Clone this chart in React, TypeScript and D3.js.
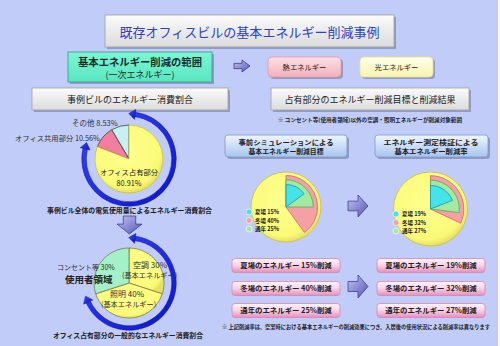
import * as d3 from "d3";

// building energy share (counter-clockwise from 12 o'clock)
const buildingLabels = ["その他", "オフィス共用部分", "オフィス占有部分"];
const buildingValues = [8.53, 10.56, 80.91];
// office occupied area share (clockwise from 12 o'clock)
const officeLabels = ["空調", "照明", "コンセント等"];
const officeValues = [30, 40, 30];
// reduction rates
const seasonLabels = ["夏場", "冬場", "通年"];
const targetValues = [15, 40, 25];
const resultValues = [19, 32, 27];

const FONT = "'Noto Sans CJK JP', 'Noto Sans', sans-serif";
const BG = "#c2ccf8";

const buildingColors = d3.scaleOrdinal<string, string>().domain(buildingLabels).range(["#c8f0f2", "#f27fa0", "#fafa7a"]);
const officeColors = d3.scaleOrdinal<string, string>().domain(officeLabels).range(["#fafa7c", "#fafa7c", "#a4f0c8"]);
const seasonColors = d3.scaleOrdinal<string, string>().domain(seasonLabels).range(["#44e4ea", "#f4a0a4", "#a2eaa0"]);
const seasonStroke = d3.scaleOrdinal<string, string>().domain(seasonLabels).range(["#20a0b0", "#d07078", "#60b060"]);
// relative radius of each season sector
const seasonRadius = d3.scaleOrdinal<string, number>().domain(seasonLabels).range([0.64, 0.9, 0.78]);

const toRad = (deg: number) => (deg * Math.PI) / 180;

function Box({ x, y, w, h, fill, stroke, rx = 0, shadow = true }: any) {
  return (
    <g>
      {shadow && <rect x={x + 2} y={y + 2} width={w} height={h} rx={rx} fill="#7d86b0" opacity={0.7} />}
      <rect x={x} y={y} width={w} height={h} rx={rx} fill={fill} stroke={stroke} strokeWidth={0.8} />
    </g>
  );
}

function blockArrow(x: number, y: number, w: number, h: number, dir: "right" | "down") {
  if (dir === "right") {
    const sx = x + w * 0.5;
    return `M${x},${y + h * 0.28}L${sx},${y + h * 0.28}L${sx},${y}L${x + w},${y + h / 2}L${sx},${y + h}L${sx},${y + h * 0.72}L${x},${y + h * 0.72}Z`;
  }
  const sy = y + h * 0.45;
  return `M${x + w * 0.25},${y}L${x + w * 0.75},${y}L${x + w * 0.75},${sy}L${x + w},${sy}L${x + w / 2},${y + h}L${x},${sy}L${x + w * 0.25},${sy}Z`;
}

function CycleArrow({ cx, cy, r, start, end }: any) {
  const width = 4.5;
  const ring = d3.arc()({ innerRadius: r - width / 2, outerRadius: r + width / 2, startAngle: toRad(start), endAngle: toRad(end) } as any) as string;
  const head = (deg: number, sign: number) => {
    const a = toRad(deg);
    const px = cx + r * Math.sin(a), py = cy - r * Math.cos(a);
    const tx = Math.cos(a) * sign, ty = Math.sin(a) * sign;
    const nx = Math.sin(a), ny = -Math.cos(a);
    const L = 6.5, W = 5;
    return `M${px + tx * L},${py + ty * L}L${px + nx * W},${py + ny * W}L${px - nx * W},${py - ny * W}Z`;
  };
  return (
    <g fill="url(#blueArc)" stroke="#0a10a0" strokeWidth={0.5}>
      <path d={ring} transform={`translate(${cx},${cy})`} />
      <path d={head(start, -1)} />
      <path d={head(end, 1)} />
    </g>
  );
}

function ReductionPie({ cx, cy, r, values, legendX }: any) {
  const order = [1, 2, 0]; // draw winter, all-year, summer
  return (
    <g>
      <circle cx={cx} cy={cy} r={r} fill="url(#pieYellow)" stroke="#c8c040" strokeWidth={0.8} />
      <g transform={`translate(${cx},${cy})`}>
        {order.map((i) => {
          const s = seasonLabels[i];
          const d = d3.arc()({ innerRadius: 0, outerRadius: r * seasonRadius(s), startAngle: 0, endAngle: (values[i] / 100) * Math.PI * 2 } as any) as string;
          return <path key={s} d={d} fill={seasonColors(s)} stroke={seasonStroke(s)} strokeWidth={0.9} />;
        })}
      </g>
      {seasonLabels.map((s, i) => (
        <g key={s}>
          <circle cx={legendX} cy={cy + 5 + i * 8.5} r={3} fill={seasonColors(s)} stroke="#ffffff" strokeWidth={0.6} />
          <text x={legendX + 6} y={cy + 7 + i * 8.5} fontSize={5.5} fontWeight="bold" fill="#202020">
            {s} {values[i]}%
          </text>
        </g>
      ))}
    </g>
  );
}

export default function App() {
  const pieTop = d3.pie<number>().sort(null).startAngle(0).endAngle(-Math.PI * 2)(buildingValues);
  const pieBottom = d3.pie<number>().sort(null).startAngle(0).endAngle(Math.PI * 2)(officeValues);
  const arcTop = d3.arc<any>().innerRadius(0).outerRadius(34);
  const arcBottom = d3.arc<any>().innerRadius(0).outerRadius(35);
  const pillRows = [258.5, 281.5, 303.5];

  return (
    <svg width={500} height={346} style={{ position: "absolute", left: 0, top: 0 }} fontFamily={FONT}>
      <defs>
        <linearGradient id="grayBox" x1="0" y1="0" x2="0" y2="1">
          <stop offset="0" stopColor="#fbfbfb" />
          <stop offset="1" stopColor="#dcdcdc" />
        </linearGradient>
        <linearGradient id="greenBox" x1="0" y1="0" x2="0" y2="1">
          <stop offset="0" stopColor="#7cf6d4" />
          <stop offset="1" stopColor="#58e6c0" />
        </linearGradient>
        <linearGradient id="pinkBox" x1="0" y1="0" x2="0" y2="1">
          <stop offset="0" stopColor="#fde0e4" />
          <stop offset="1" stopColor="#f2b0bc" />
        </linearGradient>
        <linearGradient id="yellowBox" x1="0" y1="0" x2="0" y2="1">
          <stop offset="0" stopColor="#ffffe8" />
          <stop offset="1" stopColor="#f8f4b0" />
        </linearGradient>
        <linearGradient id="blueBox" x1="0" y1="0" x2="0" y2="1">
          <stop offset="0" stopColor="#f0f6ff" />
          <stop offset="1" stopColor="#a8c4ee" />
        </linearGradient>
        <linearGradient id="pill" x1="0" y1="0" x2="0" y2="1">
          <stop offset="0" stopColor="#fff4fa" />
          <stop offset="0.45" stopColor="#fbd6e8" />
          <stop offset="1" stopColor="#e290bc" />
        </linearGradient>
        <linearGradient id="arrowFill" x1="0" y1="0" x2="1" y2="1">
          <stop offset="0" stopColor="#c4c4f4" />
          <stop offset="1" stopColor="#5454b4" />
        </linearGradient>
        <linearGradient id="blueArc" x1="0" y1="0" x2="1" y2="1">
          <stop offset="0" stopColor="#3848f8" />
          <stop offset="1" stopColor="#0a14c8" />
        </linearGradient>
        <radialGradient id="pieYellow" cx="0.45" cy="0.4" r="0.6">
          <stop offset="0" stopColor="#ffff90" />
          <stop offset="0.85" stopColor="#fafa78" />
          <stop offset="1" stopColor="#e8e060" />
        </radialGradient>
      </defs>

      <rect width={500} height={346} fill={BG} />
      <rect x={498} width={2} height={346} fill="#ffffff" />

      {/* title */}
      <Box x={105} y={15} w={289} h={32} fill="url(#grayBox)" stroke="#a0a0a0" />
      <text x={249.5} y={36.5} textAnchor="middle" fontSize={13} fill="#2f40c8" textLength={260} lengthAdjust="spacingAndGlyphs">
        既存オフィスビルの基本エネルギー削減事例
      </text>

      {/* scope box */}
      <Box x={68} y={52} w={144} h={30} fill="url(#greenBox)" stroke="#3a9a80" />
      <text x={140} y={65.5} textAnchor="middle" fontSize={10} fontWeight="bold" fill="#1c2c2c" textLength={124} lengthAdjust="spacingAndGlyphs">
        基本エネルギー削減の範囲
      </text>
      <text x={140} y={77.5} textAnchor="middle" fontSize={9} fill="#1c2c2c">
        (一次エネルギー)
      </text>
      <path d={blockArrow(234, 60, 16, 12, "right")} fill="url(#arrowFill)" stroke="#303080" strokeWidth={0.7} />
      <Box x={268} y={57} w={73} h={20} rx={4} fill="url(#pinkBox)" stroke="#e09aa8" />
      <text x={304.5} y={70} textAnchor="middle" fontSize={7.3} fill="#202020">熱エネルギー</text>
      <Box x={360} y={57} w={73} h={20} rx={4} fill="url(#yellowBox)" stroke="#e6e0a0" />
      <text x={396.5} y={70} textAnchor="middle" fontSize={7.3} fill="#202020">光エネルギー</text>

      {/* section headers */}
      <Box x={32} y={88} w={196} h={22} fill="url(#grayBox)" stroke="#a0a0a0" />
      <text x={130} y={102.5} textAnchor="middle" fontSize={9} fill="#202020">事例ビルのエネルギー消費割合</text>
      <Box x={271} y={88} w={198} h={22} fill="url(#grayBox)" stroke="#a0a0a0" />
      <text x={370} y={102.5} textAnchor="middle" fontSize={9} fill="#202020">占有部分のエネルギー削減目標と削減結果</text>
      <text x={370} y={122} textAnchor="middle" fontSize={5.4} fontWeight="bold" fill="#202020" textLength={184} lengthAdjust="spacingAndGlyphs">
        ※ コンセント等(使用者領域)以外の空調・照明エネルギーが削減対象範囲
      </text>

      {/* building pie */}
      <CycleArrow cx={129} cy={159} r={45} start={8} end={283} />
      <g transform="translate(129,159)">
        <circle r={34} fill="url(#pieYellow)" />
        {pieTop.map((d, i) => (
          <path key={buildingLabels[i]} d={arcTop(d) as string} fill={i === 2 ? "url(#pieYellow)" : buildingColors(buildingLabels[i])} stroke={i === 2 ? "#c8c040" : "#404040"} strokeWidth={0.8} />
        ))}
      </g>
      <text x={72} y={126} fontSize={7.5} fill="#303030">{buildingLabels[0]}  {buildingValues[0]}%</text>
      <text x={15} y={141} fontSize={7.3} fill="#303030">{buildingLabels[1]} {buildingValues[1]}%</text>
      <text x={129} y={175} textAnchor="middle" fontSize={7.3} fill="#202020">{buildingLabels[2]}</text>
      <text x={129} y={185.5} textAnchor="middle" fontSize={7.3} fill="#202020">{buildingValues[2]}%</text>
      <text x={129.5} y={212.5} textAnchor="middle" fontSize={6.9} fontWeight="bold" fill="#202020" textLength={165} lengthAdjust="spacingAndGlyphs">
        事例ビル全体の電気使用量によるエネルギー消費割合
      </text>
      <path d={blockArrow(117, 216, 25, 18, "down")} fill="url(#arrowFill)" stroke="#303080" strokeWidth={0.7} />

      {/* office pie */}
      <CycleArrow cx={129} cy={283} r={45} start={8} end={245} />
      <g transform="translate(129,283)">
        {pieBottom.map((d, i) => (
          <path key={officeLabels[i]} d={arcBottom(d) as string} fill={i === 2 ? officeColors(officeLabels[i]) : "url(#pieYellow)"} stroke="#707040" strokeWidth={0.7} />
        ))}
      </g>
      <text x={133} y={268} fontSize={8} fill="#303030">{officeLabels[0]}  {officeValues[0]}%</text>
      <text x={122} y={278} fontSize={7.2} fill="#303030">(基本エネルギー)</text>
      <text x={110} y={297} fontSize={8} fill="#303030">{officeLabels[1]}  {officeValues[1]}%</text>
      <text x={101} y={307} fontSize={7.2} fill="#303030">(基本エネルギー)</text>
      <text x={57} y={269.5} fontSize={7} fill="#303030">{officeLabels[2]}  {officeValues[2]}%</text>
      <text x={65} y={283} fontSize={9.5} fontWeight="bold" fill="#202020">使用者領域</text>
      <text x={128} y={337.5} textAnchor="middle" fontSize={6.8} fontWeight="bold" fill="#202020" textLength={150} lengthAdjust="spacingAndGlyphs">
        オフィス占有部分の一般的なエネルギー消費割合
      </text>

      {/* reduction panels */}
      <Box x={225} y={135} w={122} h={22} rx={3} fill="url(#blueBox)" stroke="#7c98c8" />
      <text x={286} y={145} textAnchor="middle" fontSize={6.6} fontWeight="bold" fill="#202020" textLength={95} lengthAdjust="spacingAndGlyphs">事前シミュレーションによる</text>
      <text x={286} y={154.3} textAnchor="middle" fontSize={6.6} fontWeight="bold" fill="#202020" textLength={75} lengthAdjust="spacingAndGlyphs">基本エネルギー削減目標</text>
      <Box x={375} y={135} w={113} h={22} rx={3} fill="url(#blueBox)" stroke="#7c98c8" />
      <text x={431} y={145} textAnchor="middle" fontSize={6.6} fontWeight="bold" fill="#202020" textLength={95} lengthAdjust="spacingAndGlyphs">エネルギー測定検証による</text>
      <text x={431} y={154.3} textAnchor="middle" fontSize={6.6} fontWeight="bold" fill="#202020" textLength={73} lengthAdjust="spacingAndGlyphs">基本エネルギー削減率</text>

      <ReductionPie cx={286} cy={207} r={35} values={targetValues} legendX={249} />
      <ReductionPie cx={430.5} cy={209} r={37} values={resultValues} legendX={396} />
      <path d={blockArrow(348, 195, 20, 22, "right")} fill="url(#arrowFill)" stroke="#303080" strokeWidth={0.7} />

      {pillRows.map((y, i) => (
        <g key={i}>
          <Box x={232} y={y} w={108} h={14} rx={3} fill="url(#pill)" stroke="#d884b0" shadow={false} />
          <text x={286} y={y + 9.8} textAnchor="middle" fontSize={7.4} fontWeight="bold" fill="#202020">
            {seasonLabels[i]}のエネルギー {targetValues[i]}%削減
          </text>
          <Box x={377} y={y} w={108} h={14} rx={3} fill="url(#pill)" stroke="#d884b0" shadow={false} />
          <text x={431} y={y + 9.8} textAnchor="middle" fontSize={7.4} fontWeight="bold" fill="#202020">
            {seasonLabels[i]}のエネルギー {resultValues[i]}%削減
          </text>
        </g>
      ))}
      <path d={blockArrow(348, 275, 20, 23, "right")} fill="url(#arrowFill)" stroke="#303080" strokeWidth={0.7} />
      <text x={222} y={329} fontSize={5.4} fontWeight="bold" fill="#202020" textLength={268} lengthAdjust="spacingAndGlyphs">
        ※ 上記削減率は、空室時における基本エネルギーの削減効果につき、入居後の使用状況による削減率は異なります
      </text>
    </svg>
  );
}
